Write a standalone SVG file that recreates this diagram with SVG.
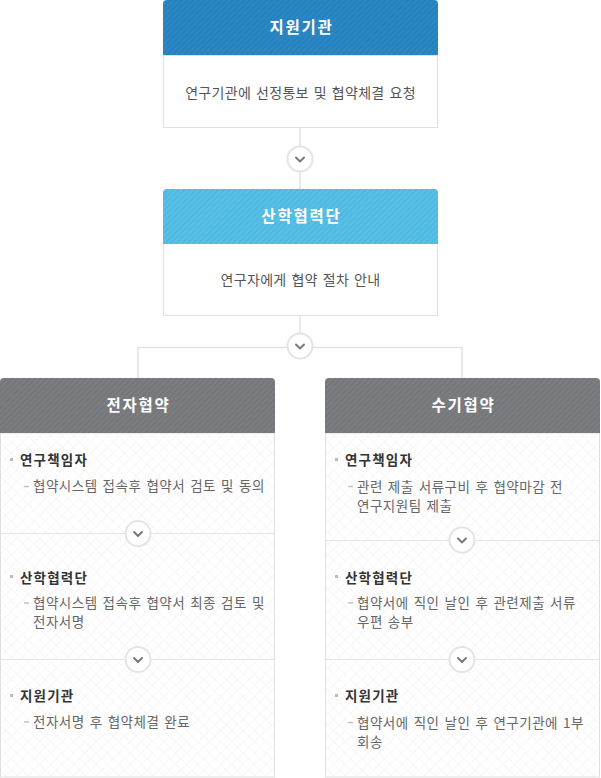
<svg xmlns="http://www.w3.org/2000/svg" width="601" height="778" viewBox="0 0 601 778">
<defs>
<style>
.hd{font-family:"Noto Sans CJK KR","Noto Sans",sans-serif;font-size:15.5px;font-weight:bold;fill:#fff;text-anchor:middle;letter-spacing:1.8px}
.bt{font-family:"Noto Sans CJK KR","Noto Sans",sans-serif;font-size:14px;fill:#555;text-anchor:middle;letter-spacing:0.3px;word-spacing:1.5px}
.lb{font-family:"Noto Sans CJK KR","Noto Sans",sans-serif;font-size:13.5px;font-weight:bold;fill:#333;letter-spacing:1.2px}
.tx{font-family:"Noto Sans CJK KR","Noto Sans",sans-serif;font-size:13.5px;fill:#666;letter-spacing:0.5px;word-spacing:1.5px}
.body{fill:#fff;stroke:#e0e0e0;stroke-width:1}
.line{stroke:#e2e2e2;stroke-width:1.5;fill:none}
.div{stroke:#e6e6e6;stroke-width:1;fill:none}
.circ{fill:#fff;stroke:#e4e4e4;stroke-width:2}
.chev{fill:none;stroke:#7a7a7a;stroke-width:2;stroke-linecap:round;stroke-linejoin:round}
.bul{fill:#bbb}
.dash{stroke:#c4c4c4;stroke-width:1.5}
</style>
<pattern id="stripe" width="4" height="4" patternUnits="userSpaceOnUse" patternTransform="rotate(45)">
<rect width="1.3" height="4" fill="#000" fill-opacity="0.07"/>
</pattern>
<pattern id="grid" width="8" height="8" patternUnits="userSpaceOnUse" patternTransform="rotate(45)">
<path d="M0,0H8M0,0V8" stroke="#f0f0f0" stroke-width="1"/>
</pattern>
<g id="chv"><circle r="12.5" class="circ"/><path d="M-4,-1.5 L0,2.5 L4,-1.5" class="chev"/></g>
</defs>
<rect width="601" height="778" fill="#fff"/>

<g id="connectors">
<line x1="300" y1="128" x2="300" y2="189" class="line"/>
<line x1="300" y1="316" x2="300" y2="347" class="line"/>
<polyline points="138,378 138,347.5 462,347.5 462,378" class="line"/>
<use href="#chv" x="300" y="159"/>
<use href="#chv" x="300" y="346"/>
</g>

<g id="node-support">
<rect x="163.5" y="55.5" width="274" height="72" class="body"/>
<path d="M163,55 V4 Q163,0 167,0 H434 Q438,0 438,4 V55 Z" fill="#2a88c5"/>
<path d="M163,55 V4 Q163,0 167,0 H434 Q438,0 438,4 V55 Z" fill="url(#stripe)"/>
<text x="301.5" y="32.5" class="hd">지원기관</text>
<text x="300.5" y="97.5" class="bt">연구기관에 선정통보 및 협약체결 요청</text>
</g>

<g id="node-industry">
<rect x="163.5" y="243.5" width="274" height="72" class="body"/>
<path d="M163,244 V193 Q163,189 167,189 H434 Q438,189 438,193 V244 Z" fill="#56c1e8"/>
<path d="M163,244 V193 Q163,189 167,189 H434 Q438,189 438,193 V244 Z" fill="url(#stripe)"/>
<text x="301.5" y="221.5" class="hd">산학협력단</text>
<text x="300.5" y="285" class="bt">연구자에게 협약 절차 안내</text>
</g>

<g id="node-electronic">
<rect x="0.5" y="433" width="274" height="344" fill="#fff"/>
<rect x="0.5" y="433" width="274" height="344" fill="url(#grid)"/>
<rect x="0.5" y="433" width="274" height="344" fill="none" stroke="#e0e0e0"/>
<path d="M0,433 V382 Q0,378 4,378 H271 Q275,378 275,382 V433 Z" fill="#7c7d81"/>
<path d="M0,433 V382 Q0,378 4,378 H271 Q275,378 275,382 V433 Z" fill="url(#stripe)"/>
<text x="138.5" y="410.5" class="hd">전자협약</text>
<line x1="1" y1="533.5" x2="274" y2="533.5" class="div"/>
<line x1="1" y1="659.5" x2="274" y2="659.5" class="div"/>
<use href="#chv" x="138" y="533.5"/>
<use href="#chv" x="138" y="659.5"/>
<rect x="10" y="458" width="3" height="3" class="bul"/>
<text x="20" y="465" class="lb">연구책임자</text>
<line x1="24" y1="486.5" x2="29" y2="486.5" class="dash"/>
<text x="33" y="491" class="tx">협약시스템 접속후 협약서 검토 및 동의</text>
<rect x="10" y="575" width="3" height="3" class="bul"/>
<text x="20" y="582.5" class="lb">산학협력단</text>
<line x1="24" y1="603" x2="29" y2="603" class="dash"/>
<text x="33" y="608" class="tx">협약시스템 접속후 협약서 최종 검토 및</text>
<text x="33" y="627" class="tx">전자서명</text>
<rect x="10" y="694" width="3" height="3" class="bul"/>
<text x="20" y="701" class="lb">지원기관</text>
<line x1="24" y1="722" x2="29" y2="722" class="dash"/>
<text x="33" y="727" class="tx">전자서명 후 협약체결 완료</text>
</g>

<g id="node-manual">
<rect x="325.5" y="433" width="274" height="344" fill="#fff"/>
<rect x="325.5" y="433" width="274" height="344" fill="url(#grid)"/>
<rect x="325.5" y="433" width="274" height="344" fill="none" stroke="#e0e0e0"/>
<path d="M325,433 V382 Q325,378 329,378 H596 Q600,378 600,382 V433 Z" fill="#7c7d81"/>
<path d="M325,433 V382 Q325,378 329,378 H596 Q600,378 600,382 V433 Z" fill="url(#stripe)"/>
<text x="463.5" y="410.5" class="hd">수기협약</text>
<line x1="326" y1="540.5" x2="599" y2="540.5" class="div"/>
<line x1="326" y1="659.5" x2="599" y2="659.5" class="div"/>
<use href="#chv" x="462" y="540"/>
<use href="#chv" x="462" y="659.5"/>
<rect x="335" y="458" width="3" height="3" class="bul"/>
<text x="345" y="465" class="lb">연구책임자</text>
<line x1="348" y1="486.5" x2="353" y2="486.5" class="dash"/>
<text x="357" y="491.5" class="tx">관련 제출 서류구비 후 협약마감 전</text>
<text x="357" y="510.5" class="tx">연구지원팀 제출</text>
<rect x="335" y="575" width="3" height="3" class="bul"/>
<text x="345" y="582.5" class="lb">산학협력단</text>
<line x1="348" y1="603" x2="353" y2="603" class="dash"/>
<text x="357" y="608" class="tx">협약서에 직인 날인 후 관련제출 서류</text>
<text x="357" y="627" class="tx">우편 송부</text>
<rect x="335" y="694" width="3" height="3" class="bul"/>
<text x="345" y="701" class="lb">지원기관</text>
<line x1="348" y1="722.5" x2="353" y2="722.5" class="dash"/>
<text x="357" y="727.5" class="tx">협약서에 직인 날인 후 연구기관에 1부</text>
<text x="357" y="746.5" class="tx">회송</text>
</g>
</svg>
